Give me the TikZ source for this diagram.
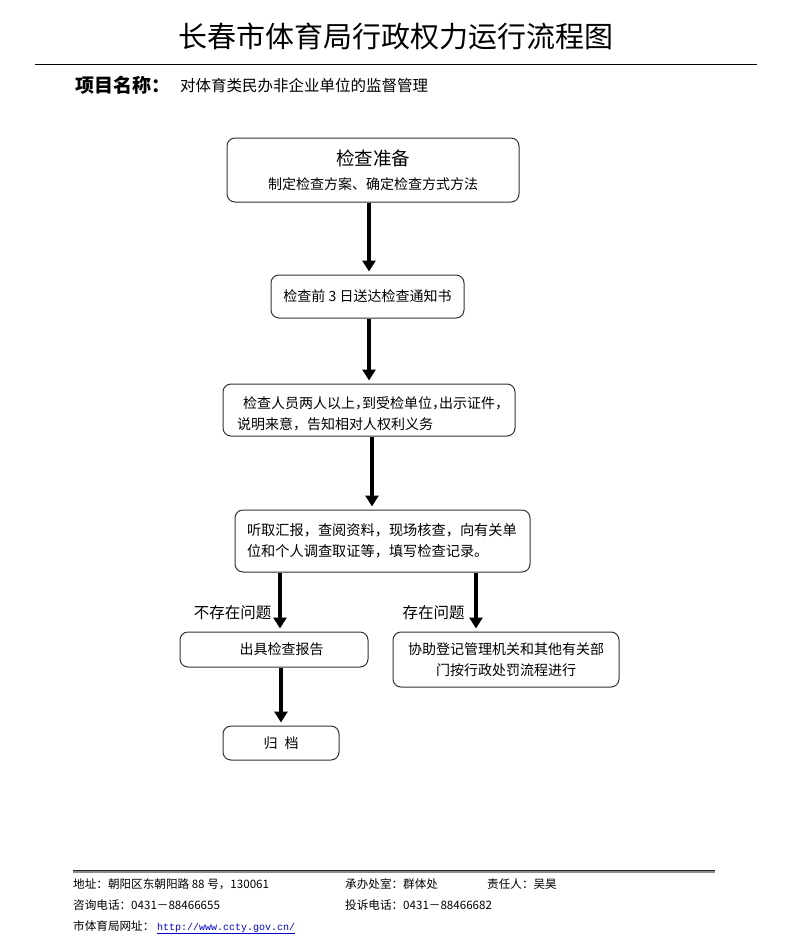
\documentclass[tikz,border=0pt]{standalone}
\usepackage{fontspec}
\setmainfont{Noto Sans CJK SC}
\newfontfamily\urlfont{Liberation Mono}
\XeTeXlinebreaklocale "zh"
\usetikzlibrary{arrows.meta}
\newcommand\hcomma{，\kern-7pt}
\begin{document}
\begin{tikzpicture}[x=1pt,y=-1pt,
  box/.style={draw=black!80, line width=1pt, rounded corners=8pt, inner sep=0pt},
  arr/.style={line width=3.6pt, -{Triangle[length=11pt,width=13pt]}, shorten >=3pt},
  boxtext/.style={font=\fontsize{14}{21}\selectfont},
  lbl/.style={inner sep=0pt, font=\fontsize{15.5}{17}\selectfont},
  foot/.style={inner sep=0pt, anchor=base west, font=\fontsize{11.6}{12}\selectfont}]
\useasboundingbox[fill=white] (0,0) rectangle (792,945);

% header
\node[inner sep=0pt] (title) at (396,36) {\fontsize{29}{30}\selectfont 长春市体育局行政权力运行流程图};
\draw[line width=1pt] (35,64) -- (757,64);
\node[inner sep=0pt, anchor=west] (pname) at (75,85) {\fontsize{19}{20}\selectfont\bfseries 项目名称：};
\node[inner sep=0pt, anchor=west] (pval) at (180,86) {\fontsize{15.5}{16}\selectfont 对体育类民办非企业单位的监督管理};

% boxes
\node[box, minimum width=292, minimum height=64, align=center] (b1) at (373,170)
  {{\fontsize{18.5}{20}\selectfont 检查准备}\\[10pt]{\fontsize{14}{16}\selectfont 制定检查方案、确定检查方式方法}};
\node[box, boxtext, minimum width=193, minimum height=43] (b2) at (367.5,296.5)
  {检查前 3 日送达检查通知书};
\node[box, boxtext, minimum width=292, minimum height=52, text width=264, align=left] (b3) at (369,410)
  {\mbox{\rule{0pt}{20pt}\hspace*{6pt}检查人员两人以上\hcomma 到受检单位\hcomma 出示证件\hcomma}\\\mbox{说明来意，告知相对人权利义务}};
\node[box, boxtext, minimum width=295, minimum height=62, text width=271, align=left] (b4) at (382.5,541)
  {\fontsize{14.2}{23}\selectfont 听取汇报，查阅资料，现场核查，向有关单\\位和个人调查取证等，填写检查记录。};
\node[box, boxtext, minimum width=188, minimum height=35] (b5) at (274,649.5)
  {\hspace*{15pt}出具检查报告};
\node[box, boxtext, minimum width=226, minimum height=55, align=center] (b6) at (506,659.5)
  {协助登记管理机关和其他有关部\\门按行政处罚流程进行};
\node[box, boxtext, minimum width=116, minimum height=34] (b7) at (281,743)
  {归\hspace{7pt}档};

% branch labels
\node[lbl] (l1) at (232.5,613) {不存在问题};
\node[lbl] (l2) at (433.5,613) {存在问题};

% arrows
\coordinate (x1) at (369,0);
\coordinate (x3) at (372,0);
\coordinate (x4) at (280,0);
\coordinate (x5) at (476,0);
\coordinate (x6) at (281,0);
\draw[arr] (b1.south -| x1) -- (b2.north -| x1);
\draw[arr] (b2.south -| x1) -- (b3.north -| x1);
\draw[arr] (b3.south -| x3) -- (b4.north -| x3);
\draw[arr] (b4.south -| x4) -- (b5.north -| x4);
\draw[arr] (b4.south -| x5) -- (b6.north -| x5);
\draw[arr] (b5.south -| x6) -- (b7.north -| x6);

% footer
\draw[line width=2.5pt, black!45] (73,871.5) -- (715,871.5);
\draw[line width=0.9pt, black!85] (73,870.5) -- (715,870.5);
\node[foot] (f1) at (73,888) {地址：朝阳区东朝阳路 88 号，130061};
\node[foot] (f2) at (345,888) {承办处室：群体处};
\node[foot] (f3) at (487,888) {责任人：吴昊};
\node[foot] (f4) at (73,909) {咨询电话：0431－88466655};
\node[foot] (f5) at (345,909) {投诉电话：0431－88466682};
\node[foot] (f6) at (73,930) {市体育局网址：};
\node[foot, text=blue!80!black] (f7) at (157,930) {\urlfont\fontsize{10}{12}\selectfont\underline{http://www.ccty.gov.cn/}};
\end{tikzpicture}
\end{document}
